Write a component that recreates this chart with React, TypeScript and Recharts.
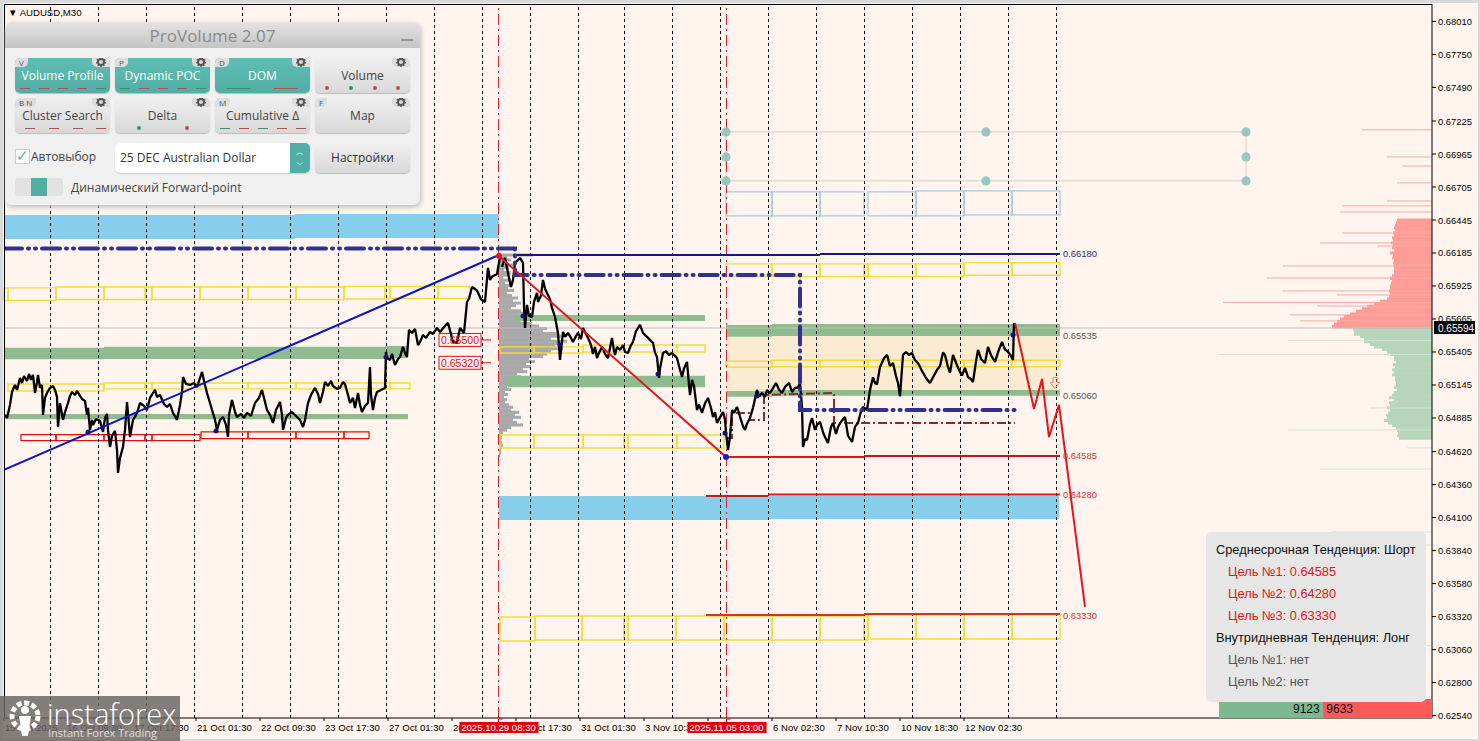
import React from "react";
import {
  ComposedChart,
  Line,
  XAxis,
  YAxis,
  ReferenceArea,
  ReferenceLine,
  ReferenceDot,
} from "recharts";

type Pt = [number, number];
type Box = [number, number, number, number];

const FONT = '"Liberation Sans", Arial, sans-serif';
const UI = '"Open Sans", "Noto Sans", sans-serif';

const LAST_PRICE = 0.65594;
const PRICE_TICKS = [
  0.6801, 0.6775, 0.6749, 0.67225, 0.66965, 0.66705, 0.66445, 0.66185, 0.65925, 0.65665, 0.65405,
  0.65145, 0.64885, 0.6462, 0.6436, 0.641, 0.6384, 0.6358, 0.6332, 0.6306, 0.628, 0.6254,
];
const TIME_TICKS: [number, string][] = [
  [0, "15 Oct 2025"], [62, "16 Oct 09:30"], [129, "17 Oct 17:30"], [192, "21 Oct 01:30"],
  [256, "22 Oct 09:30"], [320, "23 Oct 17:30"], [384, "27 Oct 01:30"], [448, "28 Oct 09:30"],
  [512, "29 Oct 17:30"], [576, "31 Oct 01:30"], [640, "3 Nov 10:30"], [704, "4 Nov 18:30"],
  [768, "6 Nov 02:30"], [832, "7 Nov 10:30"], [896, "10 Nov 18:30"], [960, "12 Nov 02:30"],
];
const EVENT_TICKS: [number, string][] = [
  [494.5, "2025.10.29 08:30"],
  [722.5, "2025.11.05 03:00"],
];
const GRID_BARS = [
  46.5, 94.5, 142.5, 190.5, 238.5, 286.5, 334.5, 382.5, 430.5, 478.5, 526.5, 574.5, 620.5, 668.5, 716.5, 764.5,
  812.5, 860.5, 908.5, 956.5, 1004.5, 1052.5,
];

const priceBefore: Pt[] = [
  [1,.64909],[3,.64885],[6,.64988],[8,.6509],[11,.65145],[13,.65106],[16,.652],[18,.65161],[20,.65216],[23,.65177],
  [25,.65232],[27,.65185],[29,.65224],[31,.65082],[33,.65169],[34,.65224],[36,.65122],[38,.65145],[39,.64909],[41,.65043],
  [43,.65082],[46,.65122],[49,.65137],[51,.65106],[53,.65051],[54,.64814],[56,.65003],[59,.6487],[61,.64932],[64,.65003],
  [66,.65059],[68,.6509],[71,.65066],[73,.65098],[76,.65059],[78,.65035],[81,.65019],[83,.64909],[84,.64964],[86,.64791],
  [88,.6487],[89,.6483],[92,.64877],[96,.64862],[99,.64775],[101,.64885],[103,.64917],[104,.64791],[106,.64657],[108,.64743],
  [111,.64783],[113,.64633],[114,.64452],[116,.6457],[119,.64657],[121,.64791],[123,.65011],[125,.6483],[126,.64735],[129,.6487],
  [131,.64893],[134,.64948],[136,.65003],[140,.6498],[143,.64948],[146,.65043],[151,.65106],[153,.65051],[156,.65066],[160,.64995],
  [163,.64972],[166,.64995],[169,.64925],[173,.6487],[176,.64988],[178,.6509],[179,.65208],[182,.65153],[186,.65145],[190,.65161],
  [193,.65129],[196,.652],[198,.65248],[201,.65145],[203,.65082],[206,.65003],[208,.64948],[211,.6487],[213,.64791],[216,.6487],
  [219,.64893],[222,.6483],[224,.64735],[225,.64909],[228,.65027],[231,.64932],[233,.64893],[237,.64917],[240,.64885],[243,.64925],
  [247,.64901],[251,.65003],[255,.65043],[258,.65106],[261,.65011],[263,.64948],[266,.64909],[269,.64846],[272,.64948],[276,.65011],
  [278,.64909],[279,.64791],[282,.64885],[284,.64909],[288,.64932],[293,.64893],[296,.6487],[299,.64814],[301,.6487],[304,.65003],
  [307,.65066],[311,.65122],[314,.65074],[316,.65003],[319,.6509],[321,.65169],[324,.65137],[327,.65177],[329,.65137],[333,.65114],
  [336,.65122],[339,.65169],[341,.65153],[344,.65066],[346,.65003],[349,.65043],[351,.64964],[354,.65082],[356,.64988],[358,.64932],
  [361,.6498],[364,.65003],[366,.65287],[367,.65066],[369,.64948],[371,.65043],[373,.6509],[377,.65106],[381,.65122],
  [382,.65405],[383,.65358],[386,.65342],[388,.6539],[391,.65303],[394,.6535],[396,.65366],[399,.65445],[401,.65397],[403,.65366],
  [405,.65579],[408,.65555],[411,.65587],[414,.6546],[416,.65484],[419,.65539],[422,.65516],[426,.65563],[429,.65547],[433,.65594],
  [436,.65563],[440,.65602],[444,.65634],[447,.65547],[449,.65484],[453,.65476],[456,.65594],[460,.65555],[463,.65799],[465,.65825],
  [468,.65917],[471,.65901],[473,.6589],[477,.6582],[481,.65799],[484,.66067],[486,.65973],[488,.65997],[493,.6602],[496,.66154],
];
const priceDecline: Pt[] = [
  [498,.66075],[501,.66146],[504,.66027],[507,.65917],[509,.65973],[511,.66107],[516,.66146],[519,.66107],[520,.6576],[521,.65594],
  [523,.65776],[525,.6569],[528,.65681],[530,.65799],[533,.6587],[534,.65799],[537,.6585],[539,.65973],[541,.65905],[543,.6587],
  [546,.6582],[548,.65752],[551,.65681],[554,.65555],[556,.65342],[559,.65563],[561,.65524],[564,.65555],[567,.65516],[569,.65484],
  [572,.6553],[574,.65555],[577,.65508],[579,.65594],[582,.65547],[584,.65516],[587,.6546],[589,.6539],[591,.65445],[593,.65358],
  [595,.65397],[598,.65445],[601,.6539],[604,.65358],[606,.65437],[608,.65516],[610,.65413],[611,.65382],[613,.65445],[616,.65421],
  [619,.6546],[621,.65405],[624,.65397],[627,.6546],[629,.65484],[632,.6557],[636,.65618],[639,.65555],[642,.65532],[644,.65516],
  [647,.65492],[649,.65476],[651,.654],[653,.65366],[655,.652],[656,.65275],[659,.65397],[662,.6541],[665,.65382],[668,.65397],
  [671,.65374],[673,.65358],[675,.65295],[678,.65208],[680,.65275],[683,.65327],[685,.65145],[686,.65066],[688,.65185],[690,.65137],
  [693,.64948],[695,.6499],[698,.64925],[701,.65],[704,.65043],[707,.64964],[709,.64893],[711,.6493],[713,.64846],[716,.6489],
  [719,.64932],[721,.64875],[722,.64767],[724,.64633],[726,.64735],[728,.64948],[730,.64925],[733,.64972],[735,.64925],[736,.64893],
  [739,.6482],[741,.64791],[743,.6484],[746,.64885],[749,.64965],[753,.65106],[755,.65055],[758,.65082],[761,.65051],[763,.65105],
  [766,.65082],[769,.6512],[772,.65161],[775,.6511],[778,.65082],[781,.6513],[785,.65161],[788,.6509],[791,.65122],[794,.65125],
  [796,.65161],[798,.64972],[799,.64657],[801,.6472],[803,.64712],[806,.64835],[808,.64885],[811,.64791],[813,.6483],[816,.64854],
  [819,.64773],[821,.64735],[824,.64688],[827,.64815],[829,.64846],[832,.6476],[834,.64814],[837,.64855],[841,.64893],[844,.64745],
  [848,.64696],[851,.64815],[854,.64846],[857,.6494],[859,.64972],[863,.64948],[866,.65106],[869,.65205],[871,.65161],[873,.6515],
  [876,.65287],[880,.65355],[883,.65382],[886,.65295],[889,.65318],[892,.65215],[894,.65161],[896,.65055],[899,.65382],[902,.65405],
  [905,.65382],[908,.65397],[911,.6534],[914,.65318],[918,.65255],[922,.652],[926,.65161],[930,.6522],[933,.65264],[936,.65295],
  [939,.654],[941,.65382],[944,.65285],[946,.6524],[949,.65382],[952,.6532],[955,.65264],[958,.6522],[961,.6528],[964,.65208],
  [967,.6519],[969,.65169],[972,.6533],[974,.65421],[977,.6535],[981,.65318],[984,.65445],[987,.6538],[991,.65327],[995,.65425],
  [998,.65484],[1001,.65425],[1004,.65405],[1007,.65375],[1009,.65342],[1010,.65634],
];

const blueTrend: Pt[] = [[0, .64476], [495, .66169]];
const redTrend: Pt[] = [[495, .66161], [722, .64578]];
const forecast: Pt[] = [[1011, .65634], [1030, .64956], [1038, .65193], [1045, .64735], [1055, .64988], [1081, .63396]];
const pocTop: Pt[] = [[0, .66220], [511, .66220], [511, .66012], [796, .66012], [796, .64948], [1011, .64948]];
const pocDaily: Pt[] = [[723, .64727], [728, .64727], [728, .64925], [746, .64925], [746, .64870], [760, .64870], [760, .65066], [830, .65082], [830, .64846], [1011, .64846]];
const handleDots: Pt[] = [[722, .67139], [722, .66942], [722, .66753], [982, .67139], [982, .66753], [1242, .67139], [1242, .66942], [1242, .66753]];
const swingDots: Pt[] = [[382, .65366], [212, .64783], [84, .64775], [519, .65689], [654, .65232], [556, .65460], [721, .64767], [753, .65059], [1009, .65539]];

// x from, x to, price, tone
const levelLines: [number, number, number, string][] = [
  [509, 816, .66169, "#191970"], [816, 1056, .66177, "#191970"],
  [722, 860, .64578, "#e8101a"], [860, 1056, .64586, "#c8141a"],
  [702, 764, .64270, "#b22222"], [764, 1056, .64282, "#e0101a"],
  [702, 860, .63333, "#d9331f"], [860, 1056, .63341, "#c83c00"],
];
const levelLabels: [number, number, string, string][] = [
  [1059, .6618, "0.66180", "#1d2a78"], [1059, .65535, "0.65535", "#555"], [1059, .6506, "0.65060", "#555"],
  [1059, .64585, "0.64585", "#e0323a"], [1059, .6428, "0.64280", "#e0323a"], [1059, .6333, "0.63330", "#e0323a"],
];

const skyZones: Box[] = [
  [0, 291, .66485, .66296], [291, 495, .66493, .66304], [495, 764, .6427, .64081], [764, 1055, .6427, .64089],
];
const greenZones: Box[] = [
  [0, 100, .65439, .65348], [100, 381, .65447, .6535], [381, 404, .65453, .65358], [0, 404, .64917, .64875],
  [511, 701, .65697, .6565], [504, 701, .65218, .65128],
  [722, 768, .65618, .65526], [768, 1056, .65626, .65531], [722, 768, .65098, .65053], [768, 1056, .65106, .65061],
];
const sandZone: Box = [722, 1056, .65531, .65095];
const yellowBoxes: Box[] = [
  [0, 4, .6591, .65811], [4, 52, .6591, .65811], [52, 100, .65917, .65819], [100, 141, .65917, .65819],
  [141, 148, .65917, .65819], [148, 196, .65917, .65819], [196, 244, .65917, .65819], [244, 292, .65917, .65819],
  [292, 340, .65917, .65819], [340, 381, .65921, .65823], [381, 386, .65921, .65827], [386, 434, .65921, .65827],
  [434, 466, .65921, .65827],
  [4, 100, .65153, .65098], [100, 141, .65161, .65114], [141, 148, .65161, .65114], [148, 196, .65161, .65114],
  [196, 244, .65161, .65114], [244, 292, .65161, .65114], [292, 340, .65161, .65114], [340, 381, .65161, .65114],
  [381, 386, .65161, .65114], [386, 406, .65161, .65114],
  [496, 530, .65445, .65397], [530, 579, .65445, .65397], [579, 673, .6546, .65405], [673, 701, .6546, .65405],
  [496, 530, .64751, .64649], [530, 579, .64751, .64649], [579, 620, .64751, .64649], [620, 624, .64751, .64649],
  [624, 673, .64751, .64649], [673, 720, .64751, .64649],
  [722, 768, .66099, .65999], [768, 816, .66099, .65999], [816, 860, .66099, .65999], [860, 864, .66099, .65999],
  [864, 912, .66099, .65999], [912, 960, .66099, .65999], [960, 1008, .66109, .6601], [1008, 1056, .66109, .6601],
  [722, 768, .65332, .65285], [768, 816, .6534, .65289], [816, 860, .6534, .65289], [860, 864, .6534, .65289],
  [864, 912, .6534, .65289], [912, 960, .6534, .65289], [960, 1008, .6534, .65289], [1008, 1056, .6534, .65289],
  [496, 531, .63317, .63128], [531, 578, .63325, .63136], [578, 620, .63325, .63136], [620, 624, .63325, .63136],
  [624, 672, .63325, .63136], [672, 720, .63325, .63136], [720, 768, .63325, .63136], [768, 816, .63325, .63136],
  [816, 860, .63325, .63136], [860, 864, .63325, .63136], [864, 912, .63333, .63144], [912, 960, .63333, .63144],
  [960, 1008, .63333, .63144], [1008, 1056, .63333, .63144],
];
const redBoxes: Box[] = [
  [17, 52, .64754, .64706], [52, 100, .64754, .64706], [100, 141, .64754, .64706], [141, 148, .64754, .64706],
  [148, 196, .64754, .64706], [197, 244, .64775, .64722], [244, 292, .64775, .64722], [292, 340, .64775, .64722],
  [340, 365, .64775, .64722],
];
const paleBlueBoxes: Box[] = [
  [722, 768, .66666, .66477], [768, 816, .66666, .66477], [816, 860, .66666, .66477], [864, 912, .66666, .66477],
  [912, 960, .66674, .66477], [960, 1008, .66674, .66485], [1008, 1056, .66674, .66485],
];
const handleLines: [number, number, number, number][] = [
  [722, 1242, .67139, .67139], [722, 1242, .66753, .66753], [1242, 1242, .67139, .66753], [722, 722, .67139, .66753],
];
const clusterLabels: [number, string][] = [[.655, "0.65500"], [.6532, "0.65320"]];

// price level, length in bars
const sessionProfile: Pt[] = [
  [.6617,34],[.6615,8],[.6613,12],[.6611,7],[.6609,14],[.6607,10],[.6605,5],[.6603,12],[.6601,9],[.6599,4],
  [.6597,10],[.6595,6],[.6593,13],[.6591,9],[.6589,15],[.6587,8],[.6585,13],[.6583,19],[.6581,14],[.6579,22],
  [.6577,17],[.6575,12],[.6573,22],[.6571,26],[.6569,20],[.6567,26],[.6565,22],[.6563,33],[.6561,40],[.6559,48],
  [.6557,44],[.6555,60],[.6553,62],[.6551,52],[.6549,68],[.6547,60],[.6545,56],[.6543,64],[.6541,52],[.6539,48],
  [.6537,44],[.6535,30],[.6533,36],[.6531,27],[.6529,32],[.6527,24],[.6525,28],[.6523,18],[.6521,22],[.6519,12],
  [.6517,16],[.6515,10],[.6513,8],[.6511,12],[.6509,6],[.6507,9],[.6505,5],[.6503,8],[.6501,6],[.6499,10],
  [.6497,14],[.6495,12],[.6493,20],[.6491,16],[.6489,22],[.6487,14],[.6485,18],[.6483,24],[.6481,12],[.6479,8],
  [.6477,4],[.6475,3],[.6473,3],[.6471,2],[.6469,3],[.6467,4],[.6465,3],[.6463,2],[.6461,2],[.6459,1],
];
const askDepth: Pt[] = [
  [.66445,35],[.66425,36],[.66405,37],[.66385,38],[.66365,37],[.66345,39],[.66325,38],[.66305,40],[.66285,39],[.66265,41],
  [.66245,39],[.66225,40],[.66205,38],[.66185,42],[.66165,39],[.66145,40],[.66125,38],[.66105,39],[.66085,38],[.66065,38],
  [.66045,38],[.66025,38],[.66005,40],[.65985,42],[.65965,40],[.65945,41],[.65925,42],[.65905,42],[.65885,43],[.65865,42],
  [.65845,43],[.65825,45],[.65805,52],[.65785,58],[.65765,65],[.65745,70],[.65725,76],[.65705,82],[.65685,88],[.65665,92],
  [.65645,95],[.65625,98],[.65605,100],
];
const bidDepth: Pt[] = [
  [.65585,79],[.65565,78],[.65545,78],[.65525,72],[.65505,68],[.65485,68],[.65465,62],[.65445,58],[.65425,50],[.65405,45],
  [.65385,42],[.65365,38],[.65345,38],[.65325,36],[.65305,39],[.65285,37],[.65265,40],[.65245,38],[.65225,40],[.65205,37],
  [.65185,37],[.65165,36],[.65145,36],[.65125,38],[.65105,35],[.65085,38],[.65065,40],[.65045,43],[.65025,38],[.65005,43],
  [.64985,42],[.64965,45],[.64945,42],[.64925,44],[.64905,46],[.64885,45],[.64865,48],[.64845,44],[.64825,40],[.64805,36],
  [.64785,35],[.64765,34],[.64745,35],[.64725,33],
];
const askSpikes: Pt[] = [
  [.67155,70],[.66942,45],[.6687,30],[.66737,35],[.66595,45],[.66556,90],[.66508,92],[.66343,90],[.66264,112],[.6624,55],
  [.66083,149],[.65988,165],[.65886,149],[.65854,95],[.65795,209],[.65767,115],[.65697,142],[.6565,132],
];
const bidSpikes: Pt[] = [
  [.65496,144],[.65386,214],[.64964,62],[.64791,144],[.64649,25],[.64483,112],[.63987,100],[.63884,15],[.6309,10],
];

const pts = (rows: Pt[]) => rows.map(([x, y]) => ({ x, y }));
const X_MAX = 1428;
const BAR_END = 1428;

function PriceTick({ x, y, payload }: any) {
  const v = payload.value;
  if (v === LAST_PRICE) {
    return (
      <g>
        <rect x={x + 2} y={y - 7} width={41} height={13} fill="#000" />
        <text x={x + 6} y={y + 3.5} fontSize={10} fontFamily={FONT} fill="#fff">{v.toFixed(5)}</text>
      </g>
    );
  }
  return (
    <g>
      <line x1={x} x2={x + 4} y1={y} y2={y} stroke="#000" />
      <text x={x + 6} y={y + 3.5} fontSize={9.4} fontFamily={FONT} fill="#000">{v.toFixed(5)}</text>
    </g>
  );
}

function TimeTick({ x, y, payload }: any) {
  const ev = EVENT_TICKS.find((e) => e[0] === payload.value);
  if (ev) {
    return (
      <g>
        <path d={`M${x} ${y + 4} V${y + 1} H${x + 4}`} fill="none" stroke="#e00" />
        <rect x={x - 39} y={y + 4} width={79} height={11} fill="#e0000f" />
        <text x={x} y={y + 13} fontSize={9.6} textAnchor="middle" fontFamily={FONT} fill="#fff">{ev[1]}</text>
      </g>
    );
  }
  const t = TIME_TICKS.find((e) => e[0] === payload.value);
  return (
    <g>
      <line x1={x} x2={x} y1={y} y2={y + 3} stroke="#000" />
      <text x={x + 1} y={y + 13} fontSize={9.6} fontFamily={FONT} fill="#000">{t ? t[1] : ""}</text>
    </g>
  );
}

function HollowArrow({ cx, cy }: any) {
  return (
    <path
      d={`M${cx - 2} ${cy - 5} h4 v5 h3 l-5 6 l-5 -6 h3 z`}
      fill="none"
      stroke="#f08a70"
      strokeWidth={1}
    />
  );
}

function PriceChart() {
  const series = (rows: Pt[], stroke: string, width: number, extra: any = {}) => (
    <Line
      data={pts(rows)}
      dataKey="y"
      stroke={stroke}
      strokeWidth={width}
      dot={false}
      activeDot={false}
      isAnimationActive={false}
      legendType="none"
      {...extra}
    />
  );
  return (
    <ComposedChart width={1480} height={741} margin={{ top: 4, left: 4, right: 0, bottom: 0 }}>
      <XAxis
        type="number"
        dataKey="x"
        domain={[0, X_MAX]}
        allowDataOverflow
        height={23}
        interval={0}
        ticks={[...TIME_TICKS.map((t) => t[0]), ...EVENT_TICKS.map((t) => t[0])]}
        tick={<TimeTick />}
        tickLine={false}
        tickSize={0}
        tickMargin={0}
        axisLine={{ stroke: "#000" }}
      />
      <YAxis
        orientation="right"
        type="number"
        dataKey="y"
        domain={[0.62521, 0.68147]}
        allowDataOverflow
        width={48}
        interval={0}
        ticks={[...PRICE_TICKS, LAST_PRICE]}
        tick={<PriceTick />}
        tickLine={false}
        tickSize={0}
        tickMargin={0}
        axisLine={{ stroke: "#000" }}
      />

      {skyZones.map((b, i) => (
        <ReferenceArea key={"s" + i} x1={b[0]} x2={b[1]} y1={b[2]} y2={b[3]} fill="#87ceeb" fillOpacity={1} stroke="none" />
      ))}
      <ReferenceArea x1={sandZone[0]} x2={sandZone[1]} y1={sandZone[2]} y2={sandZone[3]} fill="#fbebd3" fillOpacity={1} stroke="none" />
      {sessionProfile.map(([p, len], i) => (
        <ReferenceArea key={"p" + i} x1={495} x2={495 + len} y1={p + 0.00012} y2={p - 0.00012} fill="#a9a9a9" fillOpacity={1} stroke="none" />
      ))}
      {greenZones.map((b, i) => (
        <ReferenceArea key={"g" + i} x1={b[0]} x2={b[1]} y1={b[2]} y2={b[3]} fill="#8fbc8f" fillOpacity={1} stroke="none" />
      ))}
      {askDepth.map(([p, len], i) => (
        <ReferenceArea key={"a" + i} x1={BAR_END - len} x2={BAR_END} y1={p + 0.00012} y2={p - 0.00012} fill="#ff9c96" fillOpacity={1} stroke="none" />
      ))}
      {bidDepth.map(([p, len], i) => (
        <ReferenceArea key={"b" + i} x1={BAR_END - len} x2={BAR_END} y1={p + 0.00012} y2={p - 0.00012} fill="#b7d5bb" fillOpacity={1} stroke="none" />
      ))}
      {askSpikes.map(([p, len], i) => (
        <ReferenceLine key={"as" + i} segment={[{ x: BAR_END - len, y: p }, { x: BAR_END, y: p }]} stroke="#f7aaa5" />
      ))}
      {bidSpikes.map(([p, len], i) => (
        <ReferenceLine key={"bs" + i} segment={[{ x: BAR_END - len, y: p }, { x: BAR_END, y: p }]} stroke="#d3e2d3" />
      ))}
      {yellowBoxes.map((b, i) => (
        <ReferenceArea key={"y" + i} x1={b[0]} x2={b[1]} y1={b[2]} y2={b[3]} fill="none" stroke="#f6dc32" strokeWidth={1.4} />
      ))}
      {redBoxes.map((b, i) => (
        <ReferenceArea key={"r" + i} x1={b[0]} x2={b[1]} y1={b[2]} y2={b[3]} fill="none" stroke="#e01010" strokeWidth={1.2} />
      ))}
      {paleBlueBoxes.map((b, i) => (
        <ReferenceArea key={"l" + i} x1={b[0]} x2={b[1]} y1={b[2]} y2={b[3]} fill="none" stroke="#9ccbe2" strokeWidth={1.2} />
      ))}
      {handleLines.map((l, i) => (
        <ReferenceLine key={"h" + i} segment={[{ x: l[0], y: l[2] }, { x: l[1], y: l[3] }]} stroke="#ddd4cc" strokeWidth={1.2} />
      ))}

      {GRID_BARS.map((b) => (
        <ReferenceLine key={"v" + b} x={b} stroke="#000" strokeDasharray="3 3" />
      ))}
      <ReferenceLine y={LAST_PRICE} stroke="#bdbdbd" />
      {EVENT_TICKS.map((e) => (
        <ReferenceLine key={e[1]} x={e[0]} stroke="#d8222a" strokeDasharray="11 4 2 4" />
      ))}

      {clusterLabels.map(([p, text]) => (
        <ReferenceArea
          key={text}
          x1={435}
          x2={477}
          y1={p + 0.00051}
          y2={p - 0.00051}
          fill="none"
          stroke="#e01010"
          label={{ value: text, position: "center", fontSize: 10.5, fontFamily: FONT, fill: "#e01010" }}
        />
      ))}
      {clusterLabels.map(([p, text]) => (
        <ReferenceLine key={"t" + text} segment={[{ x: 477, y: p }, { x: 487, y: p }]} stroke="#e01010" />
      ))}

      {levelLines.map((l, i) => (
        <ReferenceLine key={"lv" + i} segment={[{ x: l[0], y: l[2] }, { x: l[1], y: l[2] }]} stroke={l[3]} strokeWidth={2} />
      ))}
      {levelLabels.map(([x, p, text, tone]) => (
        <ReferenceDot
          key={text}
          x={x}
          y={p}
          r={0}
          fill="none"
          stroke="none"
          label={{ value: text, position: "right", fontSize: 9.4, fontFamily: FONT, fill: tone, offset: 0 }}
        />
      ))}

      {series(pocDaily, "#8b2a2a", 2, { strokeDasharray: "9 3 2 3" })}
      {series(priceBefore, "#000", 2.3, { strokeLinejoin: "bevel" })}
      {series(priceDecline, "#000", 2.3, { strokeLinejoin: "bevel" })}
      {series(blueTrend, "#0a14c8", 2)}
      {series(pocTop, "#2e3192", 4, { strokeDasharray: "18 6 1 6 1 6", strokeLinecap: "round" })}
      {series(redTrend, "#e4141c", 2)}
      {series(forecast, "#e4141c", 2)}
      {series(swingDots, "none", 0, { dot: { r: 2.5, fill: "#10107a", stroke: "none" } })}
      {series(handleDots, "none", 0, { dot: { r: 4.6, fill: "#8fc4bc", fillOpacity: 0.9, stroke: "none" } })}
      {series([[495, .66161]], "none", 0, { dot: { r: 3, fill: "#e4141c", stroke: "none" } })}
      {series([[722, .64578]], "none", 0, { dot: { r: 3, fill: "#1020c0", stroke: "#e4141c" } })}
      <ReferenceDot x={1051} y={.65165} r={0} shape={<HollowArrow />} />
    </ComposedChart>
  );
}

const flat = "linear-gradient(#f0f0f0,#d8d8d8)";
const teal = "linear-gradient(#5fbdb3,#52aea4)";

function Gear({ x, y }: { x: number; y: number }) {
  return (
    <svg width={10} height={10} style={{ position: "absolute", left: x, top: y }} viewBox="0 0 10 10">
      <circle cx={5} cy={5} r={3} fill="none" stroke="#555" strokeWidth={2} />
      <circle cx={5} cy={5} r={4.4} fill="none" stroke="#555" strokeWidth={1.2} strokeDasharray="1.5 1.5" />
    </svg>
  );
}

type Mark = [number, string, "dash" | "dot"];

function ToolButton({ left, top, label, on, tab, marks = [], gear = true }: any) {
  return (
    <div
      style={{
        position: "absolute", left, top, width: 95, height: 35, borderRadius: 5,
        background: on ? teal : flat, boxShadow: "0 1px 1px #bbb", overflow: "hidden",
      }}
    >
      {tab && (
        <div style={{ position: "absolute", left: 0, top: 0, padding: "0 4px", height: 9, lineHeight: "9px", fontSize: 8, color: "#555", background: "#ddd", borderRadius: "0 0 5px 0" }}>
          {tab}
        </div>
      )}
      {gear && (
        <div style={{ position: "absolute", right: 0, top: 0, width: 18, height: 9, background: "#ddd", borderRadius: "0 0 0 5px" }}>
          <Gear x={4} y={-1} />
        </div>
      )}
      <div style={{ position: "absolute", left: 0, right: 0, top: 9, textAlign: "center", fontSize: 12, lineHeight: "17px", color: on ? "#fff" : "#444" }}>
        {label}
      </div>
      {marks.map((m: Mark, i: number) =>
        m[2] === "dash" ? (
          <div key={i} style={{ position: "absolute", left: m[0], top: 30, width: marks.length <= 2 ? 24 : 10, height: 1, background: m[1] }} />
        ) : (
          <div key={i} style={{ position: "absolute", left: m[0], top: 28, width: 4, height: 4, borderRadius: 2, background: m[1] }} />
        )
      )}
    </div>
  );
}

const R = "#b5504a";
const G = "#3f8f5f";

function ProVolumePanel() {
  return (
    <div
      style={{
        position: "absolute", left: 5, top: 22, width: 415, height: 183, borderRadius: 7,
        background: "#f0f0f0", boxShadow: "1px 2px 5px #bbb", fontFamily: UI, overflow: "hidden",
      }}
    >
      <div style={{ height: 26, background: "linear-gradient(#e4e4e4,#c4c4c4)", textAlign: "center", fontSize: 17, lineHeight: "27px", color: "#8a8a8a" }}>
        ProVolume 2.07
      </div>
      <div style={{ position: "absolute", left: 396, top: 17, width: 12, height: 2, background: "#999" }} />
      <ToolButton left={10} top={36} label="Volume Profile" on tab="V" marks={[[5, R, "dash"], [24, R, "dash"], [43, R, "dash"], [62, R, "dash"], [81, G, "dash"]] as Mark[]} />
      <ToolButton left={110} top={36} label="Dynamic POC" on tab="P" marks={[[5, G, "dash"], [24, R, "dash"], [43, R, "dash"], [62, R, "dash"], [81, G, "dash"]] as Mark[]} />
      <ToolButton left={210} top={36} label="DOM" on tab="D" marks={[[12, G, "dash"], [59, R, "dash"]] as Mark[]} />
      <ToolButton left={310} top={36} label="Volume" marks={[[10, R, "dot"], [34, G, "dot"], [58, R, "dot"], [81, R, "dot"]] as Mark[]} />
      <ToolButton left={10} top={76} label="Cluster Search" tab="B  N" marks={[[10, R, "dash"], [34, R, "dash"], [58, R, "dash"], [81, R, "dash"]] as Mark[]} />
      <ToolButton left={110} top={76} label="Delta" marks={[[22, G, "dot"], [70, R, "dot"]] as Mark[]} />
      <ToolButton left={210} top={76} label="Cumulative Δ" tab="M" marks={[[5, G, "dash"], [24, R, "dash"], [43, G, "dash"], [62, R, "dash"], [81, R, "dash"]] as Mark[]} />
      <ToolButton left={310} top={76} label="Map" tab="F" />

      <div style={{ position: "absolute", left: 10, top: 127, width: 13, height: 13, background: "#fafafa", border: "1px solid #ccc", color: "#4fb0a6", fontSize: 15, lineHeight: "11px" }}>✓</div>
      <div style={{ position: "absolute", left: 26, top: 126, fontSize: 12, color: "#444" }}>Автовыбор</div>
      <div style={{ position: "absolute", left: 110, top: 121, width: 195, height: 30, background: "#fff", borderRadius: 5, boxShadow: "0 1px 1px #ccc", overflow: "hidden" }}>
        <div style={{ position: "absolute", left: 5, top: 6, fontSize: 12, color: "#333" }}>25 DEC Australian Dollar</div>
        <div style={{ position: "absolute", right: 0, top: 0, width: 20, height: 30, background: "#52aea4", color: "#fff", fontSize: 8, lineHeight: "12px", textAlign: "center", paddingTop: 3, boxSizing: "border-box" }}>
          ︿<br />﹀
        </div>
      </div>
      <div style={{ position: "absolute", left: 310, top: 121, width: 95, height: 30, background: flat, borderRadius: 5, boxShadow: "0 1px 1px #bbb", textAlign: "center", fontSize: 12, lineHeight: "30px", color: "#333" }}>
        Настройки
      </div>
      <div style={{ position: "absolute", left: 10, top: 156, width: 48, height: 18, background: "#e2e2e2", borderRadius: 3 }}>
        <div style={{ position: "absolute", left: 16, width: 16, height: 18, background: "#52aea4" }} />
      </div>
      <div style={{ position: "absolute", left: 66, top: 157, fontSize: 12, color: "#444" }}>Динамический Forward-point</div>
    </div>
  );
}

const targetLines: [string, string, number][] = [
  ["Среднесрочная Тенденция: Шорт", "#111", 10],
  ["Цель №1: 0.64585", "#e01818", 22],
  ["Цель №2: 0.64280", "#e01818", 22],
  ["Цель №3: 0.63330", "#e01818", 22],
  ["Внутридневная Тенденция: Лонг", "#111", 10],
  ["Цель №1: нет", "#555", 22],
  ["Цель №2: нет", "#555", 22],
];

function TargetsPanel() {
  return (
    <>
      <div style={{ position: "absolute", left: 1219, top: 699, width: 104, height: 19, background: "#7cb991", textAlign: "right", fontSize: 12, lineHeight: "20px", fontFamily: FONT, color: "#111" }}>9123&nbsp;</div>
      <div style={{ position: "absolute", left: 1323, top: 699, width: 109, height: 19, background: "#ff5a5a", fontSize: 12, lineHeight: "20px", fontFamily: FONT, color: "#111" }}>&nbsp;9633</div>
      <div style={{ position: "absolute", left: 1206, top: 532, width: 220, height: 170, boxSizing: "border-box", background: "#e6e6e6", borderRadius: 5, fontFamily: FONT, fontSize: 12.8, paddingTop: 7 }}>
        {targetLines.map(([t, c, ind]) => (
          <div key={t} style={{ height: 22, lineHeight: "22px", paddingLeft: ind, color: c }}>{t}</div>
        ))}
      </div>
    </>
  );
}

function Logo() {
  return (
    <div style={{ position: "absolute", left: 0, top: 696, width: 180, height: 45, background: "rgba(105,100,98,0.82)", color: "#fff", fontFamily: UI }}>
      <svg width={38} height={38} viewBox="0 0 38 38" style={{ position: "absolute", left: 6, top: 3 }}>
        <circle cx={19} cy={17} r={13} fill="none" stroke="#fff" strokeWidth={5} strokeDasharray="5 2.5" />
        <circle cx={19} cy={11} r={4} fill="#fff" />
        <path d="M13 17 h12 l-3 20 h-6 z" fill="#fff" />
      </svg>
      <div style={{ position: "absolute", left: 47, top: -1, fontSize: 29, lineHeight: "38px", fontWeight: 300, letterSpacing: 0 }}>instaforex</div>
      <div style={{ position: "absolute", left: 48, top: 30, fontSize: 11, lineHeight: "13px", color: "#ddd" }}>Instant Forex Trading</div>
    </div>
  );
}

export default function App() {
  return (
    <div style={{ position: "fixed", left: 0, top: 0, width: 1480, height: 741, background: "#fff5ee", overflow: "hidden" }}>
      <PriceChart />
      <div style={{ position: "absolute", left: 0, top: 0, width: 1480, height: 3, background: "#d9d9d9" }} />
      <div style={{ position: "absolute", left: 0, top: 0, width: 3, height: 741, background: "#d9d9d9" }} />
      <div style={{ position: "absolute", left: 1478, top: 0, width: 2, height: 741, background: "#d9d9d9" }} />
      <div style={{ position: "absolute", left: 0, top: 739, width: 1480, height: 2, background: "#d9d9d9" }} />
      <div style={{ position: "absolute", left: 4, top: 4, width: 1428, height: 1, background: "#000" }} />
      <div style={{ position: "absolute", left: 4, top: 4, width: 1, height: 714, background: "#000" }} />
      <div style={{ position: "absolute", left: 8, top: 7, fontFamily: FONT, fontSize: 9.6, color: "#000" }}>▼ AUDUSD,M30</div>
      <ProVolumePanel />
      <TargetsPanel />
      <Logo />
    </div>
  );
}
